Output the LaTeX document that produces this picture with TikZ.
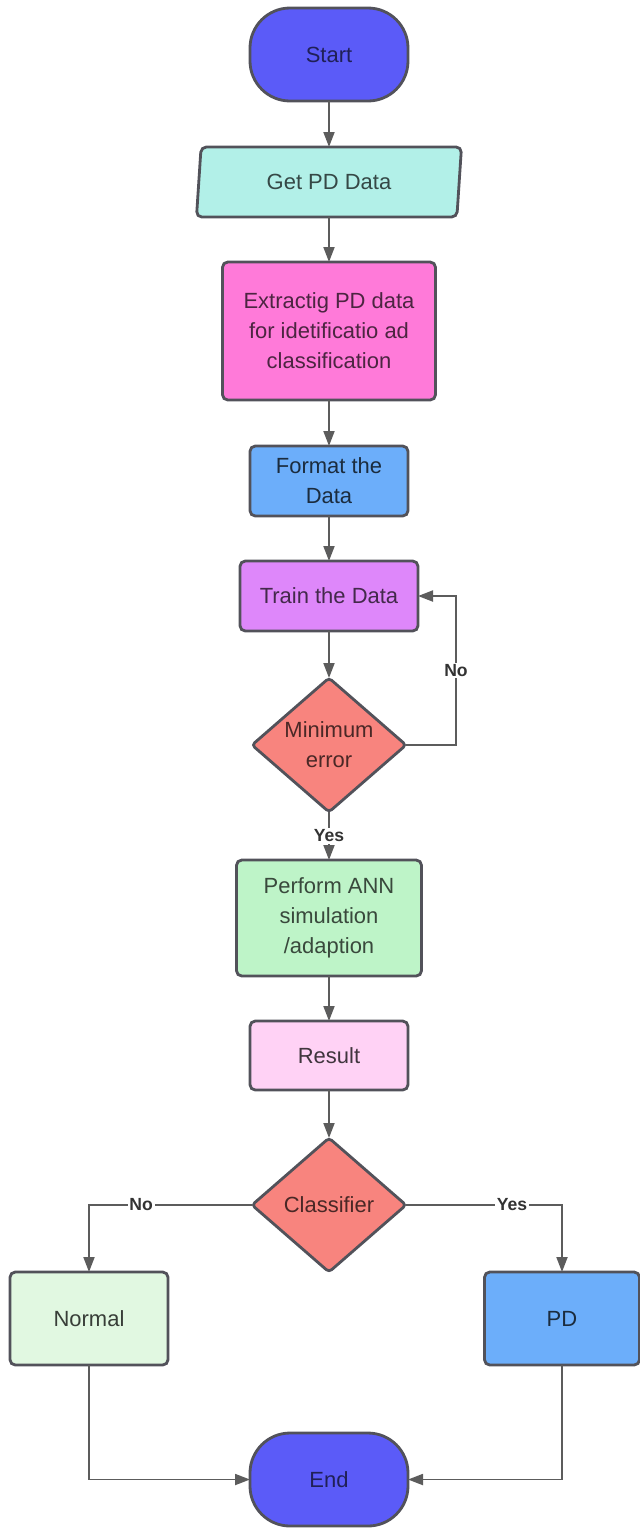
\documentclass[tikz,border=0pt]{standalone}
\usepackage{fontspec}
\setmainfont{Liberation Sans}
\usepackage{xcolor}
\usetikzlibrary{shapes.geometric, arrows.meta, positioning, calc}
\definecolor{termblue}{RGB}{91,91,248}
\definecolor{getcyan}{RGB}{178,240,232}
\definecolor{extractpink}{RGB}{255,122,217}
\definecolor{formatblue}{RGB}{108,174,250}
\definecolor{trainviolet}{RGB}{222,135,250}
\definecolor{decred}{RGB}{248,132,126}
\definecolor{annmint}{RGB}{190,244,200}
\definecolor{resultpink}{RGB}{255,210,245}
\definecolor{normalgreen}{RGB}{225,248,225}
\definecolor{edgegrey}{RGB}{82,82,90}
\definecolor{arrowgrey}{RGB}{92,92,92}

\begin{document}
\begin{tikzpicture}[
  node distance=0.9cm,
  base/.style={draw=edgegrey, line width=1.6pt, align=center, outer sep=0pt,
               font=\fontsize{12.5}{17}\selectfont, inner sep=3pt},
  box/.style={base, rectangle, rounded corners=3pt, minimum width=3.16cm,
              minimum height=1.4cm},
  term/.style={base, rectangle, rounded corners=0.8cm, minimum width=3.16cm,
               minimum height=1.86cm, fill=termblue, text=termblue!35!black},
  iobox/.style={base, trapezium, trapezium left angle=80, trapezium right angle=100,
                trapezium stretches body, rounded corners=3pt, minimum width=5.3cm,
                minimum height=1.4cm, fill=getcyan, text=getcyan!30!black},
  decide/.style={base, diamond, aspect=1.15, inner sep=1pt, rounded corners=2pt,
                 minimum width=3.08cm, minimum height=2.68cm,
                 fill=decred, text=decred!30!black},
  arr/.style={-{Triangle[length=3mm, width=2.2mm]}, line width=1.1pt, draw=arrowgrey},
  yesno/.style={font=\bfseries\fontsize{10}{11}\selectfont, fill=white,
                inner sep=1pt, text=black!80}
]
\useasboundingbox (0,0) rectangle (12.78,-30.56);

% ===== Main column =====
\node[term] (start) at (6.58,-1.09) {Start};
\node[iobox, below=0.92cm of start] (getpd) {Get PD Data};
\node[box, below=of getpd, minimum width=4.26cm, minimum height=2.76cm,
      fill=extractpink, text=extractpink!30!black] (extract)
     {Extractig PD data\\for idetificatio ad\\classification};
\node[box, below=0.92cm of extract, fill=formatblue, text=formatblue!25!black] (format)
     {Format the\\Data};
\node[box, below=of format, minimum width=3.56cm,
      fill=trainviolet, text=trainviolet!30!black] (train) {Train the Data};
\node[decide, below=0.94cm of train] (minerr) {Minimum\\error};
\node[box, below=0.96cm of minerr, minimum width=3.7cm, minimum height=2.32cm,
      fill=annmint, text=annmint!30!black] (ann)
     {Perform ANN\\simulation\\/adaption};
\node[box, below=of ann, minimum height=1.38cm,
      fill=resultpink, text=resultpink!25!black] (result) {Result};
\node[decide, below=0.96cm of result] (cls) {Classifier};

% ===== Outcomes =====
\node[box, below=0pt of cls.south, xshift=-4.8cm, minimum height=1.86cm,
      fill=normalgreen, text=normalgreen!25!black] (normal) {Normal};
\node[box, below=0pt of cls.south, xshift=4.66cm, minimum width=3.1cm,
      minimum height=1.86cm, fill=formatblue, text=formatblue!25!black] (pd) {PD};
\node[term, below=3.22cm of cls] (end) {End};

% ===== Arrows =====
\draw[arr] (start)   -- (getpd);
\draw[arr] (getpd)   -- (extract);
\draw[arr] (extract) -- (format);
\draw[arr] (format)  -- (train);
\draw[arr] (train)   -- (minerr);
\draw[arr] (minerr)  -- (ann) node[midway, yesno]{Yes};
\draw[arr] (minerr.east) -- ++(1cm,0) |- (train.east) node[pos=0.25, yesno]{No};
\draw[arr] (ann)     -- (result);
\draw[arr] (result)  -- (cls);
\draw[arr] (cls.west) -| (normal.north) node[pos=0.34, yesno]{No};
\draw[arr] (cls.east) -| (pd.north) node[pos=0.34, yesno]{Yes};
\draw[arr] (normal.south) |- (end.west);
\draw[arr] (pd.south)     |- (end.east);

\end{tikzpicture}
\end{document}
